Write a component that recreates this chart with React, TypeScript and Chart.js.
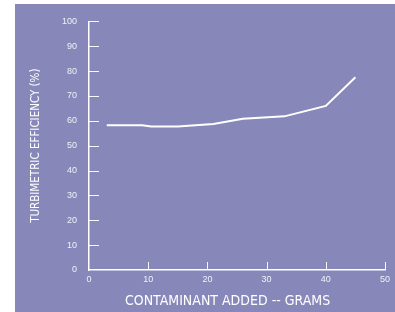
import React, { useEffect, useRef } from "react";
import { Chart, registerables } from "chart.js";

Chart.register(...registerables);

const contaminantGrams = [3, 9, 10.5, 15, 21, 26, 33, 40, 45];
const efficiencyPct = [58.2, 58.2, 57.7, 57.7, 58.7, 60.8, 61.8, 66, 77.5];
const xTicks = [0, 10, 20, 30, 40, 50];
const yTicks = [0, 10, 20, 30, 40, 50, 60, 70, 80, 90, 100];

const PURPLE = "#8788b9";

const innerTicks = {
  id: "innerTicks",
  afterDraw(chart: any) {
    const { ctx, scales } = chart;
    const x = scales.x;
    const y = scales.y;
    ctx.save();
    ctx.strokeStyle = "rgba(255,255,255,0.95)";
    ctx.lineWidth = 1;
    ctx.beginPath();
    yTicks.forEach((v) => {
      if (v === 0) return;
      const py = Math.round(y.getPixelForValue(v)) + 0.5;
      ctx.moveTo(x.left, py);
      ctx.lineTo(x.left + 10, py);
    });
    xTicks.forEach((v) => {
      if (v === 0) return;
      const px = Math.round(x.getPixelForValue(v)) + 0.5;
      ctx.moveTo(px, y.bottom);
      ctx.lineTo(px, y.bottom - 8);
    });
    ctx.stroke();
    ctx.restore();
  },
};

export default function App() {
  const ref = useRef<HTMLCanvasElement>(null);
  useEffect(() => {
    if (!ref.current) return;
    const chart = new Chart(ref.current, {
      type: "line",
      data: {
        datasets: [
          {
            data: contaminantGrams.map((g, i) => ({ x: g, y: efficiencyPct[i] })),
            borderColor: "#ffffff",
            borderWidth: 2,
            pointRadius: 0,
            tension: 0,
            fill: false,
          },
        ],
      },
      options: {
        responsive: false,
        animation: false,
        layout: { padding: { top: 17, right: 10, left: 0, bottom: 0 } },
        plugins: { legend: { display: false }, tooltip: { enabled: false } },
        scales: {
          x: {
            type: "linear",
            min: 0,
            max: 50,
            afterBuildTicks: (s: any) => {
              s.ticks = xTicks.map((v) => ({ value: v }));
            },
            afterFit: (s: any) => {
              s.height = 42;
            },
            grid: { display: false, drawTicks: false },
            border: { display: true, color: "#ffffff", width: 1.5 },
            ticks: {
              color: "rgba(255,255,255,0.88)",
              font: { family: "Liberation Sans", size: 9 },
              padding: 4,
              maxRotation: 0,
            },
            title: {
              display: true,
              text: "CONTAMINANT ADDED -- GRAMS\u2003\u2002",
              color: "#ffffff",
              font: { family: "DejaVu Sans Condensed", size: 14 },
              padding: { top: 4, bottom: 2 },
            },
          },
          y: {
            type: "linear",
            min: 0,
            max: 100,
            afterBuildTicks: (s: any) => {
              s.ticks = yTicks.map((v) => ({ value: v }));
            },
            afterFit: (s: any) => {
              s.width = 74;
            },
            grid: { display: false, drawTicks: false },
            border: { display: true, color: "#ffffff", width: 1.5 },
            ticks: {
              color: "rgba(255,255,255,0.88)",
              font: { family: "Liberation Sans", size: 9 },
              padding: 12,
            },
            title: {
              display: true,
              text: "TURBIMETRIC EFFICIENCY (%)",
              color: "#ffffff",
              font: { family: "DejaVu Sans Condensed", size: 11.5 },
              padding: { top: 14, bottom: 0 },
            },
          },
        },
      },
      plugins: [innerTicks],
    });
    return () => chart.destroy();
  }, []);
  return (
    <div style={{ position: "fixed", left: 0, top: 0, width: 395, height: 312, background: "#ffffff" }}>
      <canvas
        ref={ref}
        width={380}
        height={308}
        style={{ position: "absolute", left: 15, top: 4, width: 380, height: 308, background: PURPLE }}
      />
    </div>
  );
}
